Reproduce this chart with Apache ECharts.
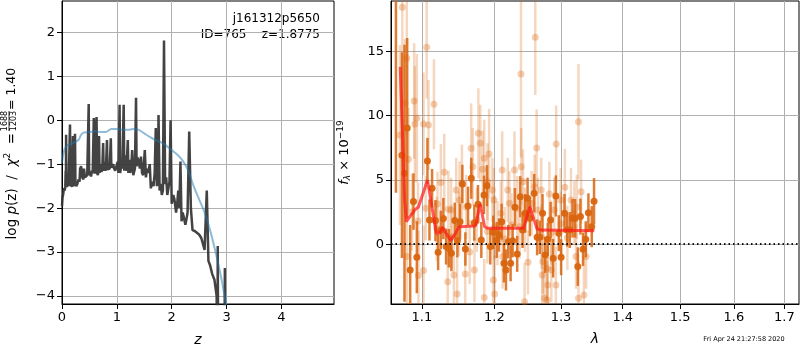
<!DOCTYPE html>
<html>
<head>
<meta charset="utf-8">
<script src="https://cdn.jsdelivr.net/npm/echarts@6/dist/echarts.min.js"></script>
<style>
  html, body { margin: 0; padding: 0; background: #fff; }
  #main { width: 800px; height: 350px; }
</style>
</head>
<body>
<div id="main"></div>
<script>
// p(z) panel: log p(z) curve (dark) and prior curve (blue)
var pzZ = [0.00, 0.01, 0.02, 0.03, 0.04, 0.05, 0.06, 0.067, 0.072, 0.075, 0.08, 0.09, 0.10, 0.11, 0.12, 0.13, 0.146, 0.155, 0.17, 0.18,
  0.20, 0.21, 0.22, 0.23, 0.237, 0.245, 0.26, 0.28, 0.30, 0.32, 0.33, 0.35, 0.37, 0.39, 0.40, 0.42, 0.44, 0.46, 0.487, 0.495,
  0.51, 0.53, 0.545, 0.56, 0.58, 0.595, 0.61, 0.62, 0.63, 0.64, 0.655, 0.665, 0.675, 0.685, 0.70, 0.72, 0.735, 0.75, 0.76, 0.78,
  0.80, 0.82, 0.83, 0.85, 0.87, 0.89, 0.90, 0.92, 0.935, 0.95, 0.97, 1.00, 1.015, 1.03, 1.05, 1.06, 1.08, 1.10, 1.125, 1.135,
  1.15, 1.165, 1.18, 1.20, 1.21, 1.23, 1.245, 1.26, 1.28, 1.30, 1.32, 1.33, 1.35, 1.36, 1.38, 1.40, 1.42, 1.44, 1.46, 1.48,
  1.51, 1.53, 1.55, 1.57, 1.60, 1.62, 1.645, 1.67, 1.69, 1.71, 1.73, 1.75, 1.76, 1.78, 1.80, 1.82, 1.84, 1.86, 1.88, 1.90,
  1.92, 1.94, 1.96, 1.98, 2.00, 2.03, 2.05, 2.08, 2.10, 2.12, 2.14, 2.16, 2.18, 2.20, 2.22, 2.25, 2.27, 2.29, 2.32, 2.35,
  2.38, 2.42, 2.45, 2.50, 2.54, 2.57, 2.60, 2.64, 2.67, 2.70, 2.74, 2.78, 2.82, 2.835, 2.84, 2.85, 2.96, 2.97, 2.98];
var pzLog = [-1.95, -1.75, -1.7, -1.6, -1.55, -1.6, -1.5, -1.15, -1.5, -0.33, -1.45, -1.52, -1.55, -1.4, -1.5, -1.52, -0.1, -1.5, -1.45, -1.52,
  -0.36, -1.5, -1.45, -1.48, -0.31, -1.45, -1.5, -1.45, -1.35, -1.4, -1.1, -1.05, -1.3, -1.35, -1.1, -1.3, -1.28, -1.25, 0.37, -1.25,
  -1.2, -1.28, -1.15, -1.2, 0.05, -1.22, -1.18, -1.2, 0.07, -1.2, -1.25, -1.15, -0.36, -1.2, -1.0, -1.18, -1.1, -0.52, -1.15, -0.95,
  -1.15, -0.45, -1.12, -1.15, -1.1, -0.41, -1.08, -1.12, -1.0, -1.1, -1.15, -1.15, -0.95, -1.2, 0.35, -1.2, -1.05, -1.1, 0.35, -1.15,
  -0.8, -1.15, -1.0, -0.45, -1.2, -0.9, -1.2, -1.1, -0.68, -1.25, -1.15, -1.1, 0.51, -1.05, -0.85, -0.95, -1.1, -0.83, -1.2, -1.25,
  -0.68, -1.3, -1.1, -1.2, -1.0, -1.55, -1.4, -1.5, -1.2, -0.18, -1.5, -1.3, 0.12, -1.6, -1.45, -1.7, -1.6, 1.81, -1.45, -1.3,
  -1.7, -1.55, -1.4, 0.0, -1.9, -1.7, -1.8, -2.1, -1.9, -1.6, -2.0, -0.94, -2.3, -2.1, -2.2, -2.38, -2.25, -2.1, -0.26, -2.0,
  -2.5, -2.52, -2.55, -2.6, -2.68, -2.72, -2.95, -1.6, -3.2, -3.3, -3.5, -3.63, -4.0, -6, -2.86, -6, -6, -3.36, -6];
var priorZ = [0, 0.02, 0.05, 0.1, 0.2, 0.3, 0.35, 0.4, 0.5, 0.6, 0.7, 0.8, 0.9, 1.0, 1.1, 1.2, 1.3, 1.4, 1.5, 1.6,
  1.7, 1.8, 1.9, 2.0, 2.1, 2.2, 2.3, 2.4, 2.5, 2.6, 2.7, 2.8, 2.9, 3.0];
var priorLog = [-0.97, -0.8, -0.65, -0.57, -0.52, -0.45, -0.33, -0.28, -0.27, -0.25, -0.27, -0.27, -0.2, -0.2, -0.22, -0.22, -0.2, -0.22, -0.3, -0.38,
  -0.45, -0.5, -0.58, -0.68, -0.78, -0.92, -1.14, -1.5, -1.8, -2.1, -2.5, -3.0, -3.56, -4.25];

// spectrum panel
var darkWave = [1.0663, 1.0740, 1.0773, 1.0808, 1.0847, 1.0890, 1.0934, 1.1074, 1.1101, 1.1136, 1.1181, 1.1217, 1.1253, 1.1288, 1.1325, 1.1362, 1.1397, 1.1443, 1.1479, 1.1516,
  1.1548, 1.1590, 1.1627, 1.1673, 1.1715, 1.1767, 1.1814, 1.1852, 1.1895, 1.1942, 1.1985, 1.2034, 1.2067, 1.2106, 1.2139, 1.2169, 1.2202, 1.2237, 1.2267, 1.2300,
  1.2334, 1.2379, 1.2414, 1.2453, 1.2489, 1.2523, 1.2588, 1.2633, 1.2674, 1.2715, 1.2755, 1.2796, 1.2838, 1.2878, 1.2920, 1.2966, 1.3002, 1.3055, 1.3096, 1.3138,
  1.3181, 1.3222, 1.3265, 1.3307, 1.3349, 1.3392, 1.3435, 1.3489, 1.3526];
var darkFlux = [20, 6.93, 5.52, 9.05, -2.0, 3.32, -1.01, 6.48, 1.89, 4.36, 1.84, -0.62, 1.11, 2.0, -0.18, -0.31, -0.7, 1.84, 0.28, 1.76,
  4.69, -0.37, 2.98, 5.13, 1.68, 3.11, 0.33, 3.84, 4.56, -0.18, 0.93, 0.33, 0.72, 1.76, -1.48, -2.0, 0.2, -1.48, 0.28, 2.88,
  -0.75, 3.7, 1.11, 2.41, 3.58, 2.02, 3.97, 0.54, 0.54, 2.41, -0.83, 0.39, 1.89, -1.09, 3.76, 0.86, -1.01, 2.41, 1.11, 1.11,
  2.02, 2.02, -1.74, 2.15, -0.39, 0.39, 2.46, 1.37, 3.35];
var darkErr = [16, 8, 10, 7, 3.5, 2.2, 2.8, 1.8, 1.6, 1.5, 1.6, 1.4, 1.5, 1.6, 1.4, 1.5, 1.4, 1.4, 1.3, 1.4,
  1.5, 1.3, 1.5, 1.6, 1.4, 1.5, 1.4, 1.5, 1.6, 1.4, 1.3, 1.4, 1.3, 1.4, 1.5, 1.6, 1.3, 1.4, 1.3, 1.5,
  1.4, 1.6, 1.4, 1.5, 1.6, 1.4, 1.5, 1.4, 1.3, 1.5, 1.4, 1.3, 1.4, 1.5, 1.6, 1.4, 1.4, 1.5, 1.3, 1.4,
  1.5, 1.5, 1.5, 1.4, 1.3, 1.4, 1.5, 1.6, 1.8];
var lightWave = [1.0745, 1.0714, 1.0803, 1.0780, 1.0899, 1.0934, 1.0824, 1.0908, 1.1064, 1.1022, 1.1088, 1.1161, 1.0803, 1.0955, 1.1022, 1.1300, 1.1254, 1.1208, 1.1356, 1.1393,
  1.1431, 1.1347, 1.1476, 1.1463, 1.1508, 1.1542, 1.1588, 1.1671, 1.1694, 1.1717, 1.1772, 1.1800, 1.1833, 1.1856, 1.1925, 1.1903, 1.1972, 1.1994, 1.2095, 1.2045,
  1.2114, 1.2120, 1.1986, 1.2005, 1.1856, 1.2195, 1.2219, 1.2294, 1.2335, 1.2369, 1.2390, 1.2395, 1.2420, 1.2495, 1.2444, 1.2605, 1.2625, 1.2595, 1.2645, 1.2695,
  1.2720, 1.2710, 1.2745, 1.2795, 1.2820, 1.2895, 1.2925, 1.2920, 1.2995, 1.3061, 1.3157, 1.3211, 1.3276, 1.3276, 1.3318, 1.3363, 1.3237, 1.3398, 1.2785, 1.2785,
  1.2850, 1.105, 1.120, 1.150, 1.160, 1.175, 1.190, 1.215, 1.225, 1.245, 1.255, 1.270, 1.285, 1.300, 1.310, 1.325, 1.087, 1.095, 1.140, 1.165,
  1.200];
var lightFlux = [18.44, 8.5, 14.47, 10.97, 11.15, 9.8, 6.61, 9.36, 15.33, 9.36, 9.28, 10.89, -0.96, -2.44, -2.05, 5.6, 4.8, 3.14, 2.72, 2.67,
  -2.39, -2.91, -3.87, 4.23, 3.45, 4.75, -2.31, 7.47, 6.04, -2.0, 8.64, 7.86, 5.84, 6.69, 7.03, 4.87, 4.23, 3.45, 2.41, 0.86,
  5.78, -0.96, -2.78, -3.87, -4.15, 4.23, 3.19, 5.78, 2.8, 1.37, 13.25, 6.04, 4.87, -1.4, -4.47, 16.11, 7.49, 4.48, 2.67, 4.23,
  -1.35, -2.39, -4.2, -3.17, 3.91, 2.67, 7.8, -3.17, 3.45, 4.43, 3.45, 2.41, 9.54, -4.2, 4.09, -3.95, -0.96, -0.96, -4.33, -1.87,
  -2.0, 2.8, 1.2, 1.6, 2.9, 1.9, 1.0, 0.4, 1.5, 1.9, 3.2, 0.6, 0.9, 1.6, 0.5, 2.9, 2.5, 1.8, 0.6, -0.6,
  1.3];
var lightErr = [6, 7, 6, 5, 4.5, 5, 4, 4.5, 4, 4, 3.5, 3.5, 4, 3.5, 3.5, 3, 3, 2.5, 3, 2.5,
  2.5, 3, 3, 2.5, 3, 3, 2.5, 3.5, 3, 2.5, 3.5, 3, 3, 3, 3.5, 3, 2.5, 2.5, 2.5, 2.5,
  3, 2.5, 2.5, 3, 3, 2.5, 2.5, 3, 2.5, 2.5, 6.5, 3, 2.5, 2.5, 3, 4.5, 3, 2.5, 2.5, 2.5,
  2.5, 2.5, 3, 3, 2.5, 2.5, 3, 3, 2.5, 3, 2.5, 2.5, 4.5, 3, 2.5, 3, 2.5, 2.5, 3, 2.5,
  2.5, 2.5, 2.5, 2.5, 2.5, 2.5, 2.5, 2.5, 2.5, 2.5, 2.5, 2.5, 2.5, 2.5, 2.5, 2.5, 3, 3, 2.5, 2.5,
  2.5];
var modelWave = [1.0718, 1.0745, 1.0775, 1.0797, 1.0850, 1.0908, 1.0955, 1.1030, 1.1074, 1.1120, 1.1192, 1.1240, 1.1280, 1.1324, 1.1390, 1.1455, 1.1500, 1.1730, 1.1800, 1.1860,
  1.1900, 1.2430, 1.2523, 1.2630, 1.2700, 1.3530];
var modelFlux = [13.8, 9.0, 3.5, 1.76, 2.2, 2.67, 2.9, 4.2, 5.0, 3.4, 0.86, 0.9, 1.32, 0.86, 0.28, 0.86, 1.37, 1.42, 3.14, 1.37,
  1.25, 1.25, 2.93, 1.2, 1.1, 1.05];

// tick labels
var zTicks = [0, 1, 2, 3, 4];
var pzTicks = [-4, -3, -2, -1, 0, 1, 2];
var waveTicks = [1.1, 1.2, 1.3, 1.4, 1.5, 1.6, 1.7];
var fluxTicks = [0, 5, 10, 15];

var FONT = 'DejaVu Sans';
var GRIDCOL = '#b0b0b0';

function zip(a, b, c) {
  var out = [];
  var n = Math.min(a.length, b.length, c ? c.length : Infinity);
  for (var i = 0; i < n; i++) out.push(c ? [a[i], b[i], c[i]] : [a[i], b[i]]);
  return out;
}
function minus(v) { return String(v).replace('-', '\u2212'); }

function errBars(color, opacity) {
  return function (params, api) {
    var x = api.value(0), y = api.value(1), e = api.value(2);
    var p1 = api.coord([x, y - e]);
    var p2 = api.coord([x, y + e]);
    return {
      type: 'line',
      shape: { x1: p1[0], y1: p1[1], x2: p2[0], y2: p2[1] },
      style: { stroke: color, lineWidth: 2.5, opacity: opacity }
    };
  };
}

function axisBase(grid, ticks) {
  return {
    gridIndex: grid,
    axisLine: { show: true, onZero: false, lineStyle: { color: '#000', width: 1 } },
    axisTick: { show: true, inside: false, length: 5, customValues: ticks, lineStyle: { color: '#000' } },
    axisLabel: { customValues: ticks, color: '#000', fontSize: 13, fontFamily: FONT, margin: 7 },
    splitLine: { show: true, lineStyle: { color: GRIDCOL, width: 1 } }
  };
}

var chart = echarts.init(document.getElementById('main'));

var ax0 = axisBase(0, zTicks);
ax0.type = 'value'; ax0.min = 0; ax0.max = 4.96;
ax0.name = 'z'; ax0.nameLocation = 'middle'; ax0.nameGap = 29;
ax0.nameTextStyle = { fontSize: 14, fontStyle: 'italic', fontFamily: FONT, color: '#000' };

var ax1 = axisBase(1, waveTicks);
ax1.type = 'log'; ax1.logBase = 10; ax1.min = 1.06; ax1.max = 1.73;
ax1.axisLabel.formatter = function (v) { return Number(v).toFixed(1); };
ax1.name = 'λ'; ax1.nameLocation = 'middle'; ax1.nameGap = 28;
ax1.nameTextStyle = { fontSize: 14, fontStyle: 'italic', fontFamily: FONT, color: '#000' };

var ay0 = axisBase(0, pzTicks);
ay0.type = 'value'; ay0.min = -4.18; ay0.max = 2.71;
ay0.axisLabel.formatter = function (v) { return minus(v); };

var ay1 = axisBase(1, fluxTicks);
ay1.type = 'value'; ay1.min = -4.65; ay1.max = 18.93;
ay1.name = '{i|f}{sub|λ}{n| × 10}{sup|\u221219}';
ay1.nameLocation = 'middle'; ay1.nameRotate = 90; ay1.nameGap = 38;
ay1.nameTextStyle = {
  color: '#000', fontFamily: FONT, fontSize: 13,
  rich: {
    i: { fontSize: 13, fontStyle: 'italic', fontFamily: FONT, color: '#000' },
    sub: { fontSize: 9, fontStyle: 'italic', fontFamily: FONT, color: '#000', padding: [7, 0, 0, 0] },
    n: { fontSize: 13, fontFamily: FONT, color: '#000' },
    sup: { fontSize: 9, fontFamily: FONT, color: '#000', padding: [0, 0, 8, 0] }
  }
};

var gridStyle = { show: true, borderColor: '#000', borderWidth: 1, backgroundColor: 'transparent', outerBoundsMode: 'none', containLabel: false };

chart.setOption({
  animation: false,
  grid: [
    Object.assign({ left: 62, right: 466, top: 1, bottom: 46 }, gridStyle),
    Object.assign({ left: 391, right: 1, top: 1, bottom: 46 }, gridStyle)
  ],
  xAxis: [ax0, ax1],
  yAxis: [ay0, ay1],
  graphic: [
    {
      type: 'group', x: 12, y: 121, rotation: Math.PI / 2,
      children: [
        {
          type: 'text', x: -12, y: 0,
          style: {
            text: '{n|log }{i|p}{n|(z)  /  }{i|χ}{s|2}{n|  =}',
            align: 'right', verticalAlign: 'middle',
            rich: {
              n: { fontSize: 13.5, fontFamily: FONT, fill: '#000' },
              i: { fontSize: 13.5, fontFamily: FONT, fontStyle: 'italic', fill: '#000' },
              s: { fontSize: 9, fontFamily: FONT, fill: '#000', padding: [0, 0, 8, 0] }
            }
          }
        },
        { type: 'text', x: 0, y: -7, style: { text: '1688', font: '8px ' + FONT, fill: '#000', align: 'center', verticalAlign: 'middle' } },
        { type: 'line', shape: { x1: -10, y1: -3, x2: 10, y2: -3 }, style: { stroke: '#000', lineWidth: 0.8 } },
        { type: 'text', x: 0, y: 1.5, style: { text: '1203', font: '8px ' + FONT, fill: '#000', align: 'center', verticalAlign: 'middle' } },
        { type: 'text', x: 11, y: 0, style: { text: '= 1.40', font: '12.5px ' + FONT, fill: '#000', align: 'left', verticalAlign: 'middle' } }
      ]
    },
    { type: 'text', x: 320, y: 19, style: { text: 'j161312p5650', font: '12px ' + FONT, fill: '#000', align: 'right', verticalAlign: 'middle' } },
    { type: 'text', x: 320, y: 35, style: { text: 'ID=765    z=1.8775', font: '12px ' + FONT, fill: '#000', align: 'right', verticalAlign: 'middle' } },
    { type: 'text', x: 744, y: 339, style: { text: 'Fri Apr 24 21:27:58 2020', font: '6.5px ' + FONT, fill: '#000', align: 'center', verticalAlign: 'middle' } }
  ],
  series: [
    {
      type: 'line', xAxisIndex: 0, yAxisIndex: 0, data: zip(pzZ, pzLog),
      showSymbol: false, clip: true,
      lineStyle: { color: '#333333', width: 2.5, opacity: 0.92 }
    },
    {
      type: 'line', xAxisIndex: 0, yAxisIndex: 0, data: zip(priorZ, priorLog),
      showSymbol: false, clip: true, smooth: 0.3,
      lineStyle: { color: '#1f77b4', width: 2, opacity: 0.5 }
    },
    {
      type: 'custom', xAxisIndex: 1, yAxisIndex: 1, clip: true,
      data: zip(lightWave, lightFlux, lightErr), encode: { x: 0, y: 1 },
      renderItem: errBars('#d95f02', 0.25)
    },
    {
      type: 'scatter', xAxisIndex: 1, yAxisIndex: 1, clip: true,
      data: zip(lightWave, lightFlux), symbolSize: 7,
      itemStyle: { color: '#d95f02', opacity: 0.3 }
    },
    {
      type: 'custom', xAxisIndex: 1, yAxisIndex: 1, clip: true,
      data: zip(darkWave, darkFlux, darkErr), encode: { x: 0, y: 1 },
      renderItem: errBars('#d9650f', 0.85)
    },
    {
      type: 'scatter', xAxisIndex: 1, yAxisIndex: 1, clip: true,
      data: zip(darkWave, darkFlux), symbolSize: 7,
      itemStyle: { color: '#d9650f', opacity: 0.95 }
    },
    {
      type: 'line', xAxisIndex: 1, yAxisIndex: 1, data: zip(modelWave, modelFlux),
      showSymbol: false, clip: true,
      lineStyle: { color: '#ff1a1a', width: 3, opacity: 0.72 },
      markLine: {
        silent: true, symbol: ['none', 'none'], label: { show: false },
        lineStyle: { color: '#000', type: [1.5, 3], width: 1.8, opacity: 0.9 },
        data: [{ yAxis: 0 }]
      }
    }
  ]
});
</script>
</body>
</html>
